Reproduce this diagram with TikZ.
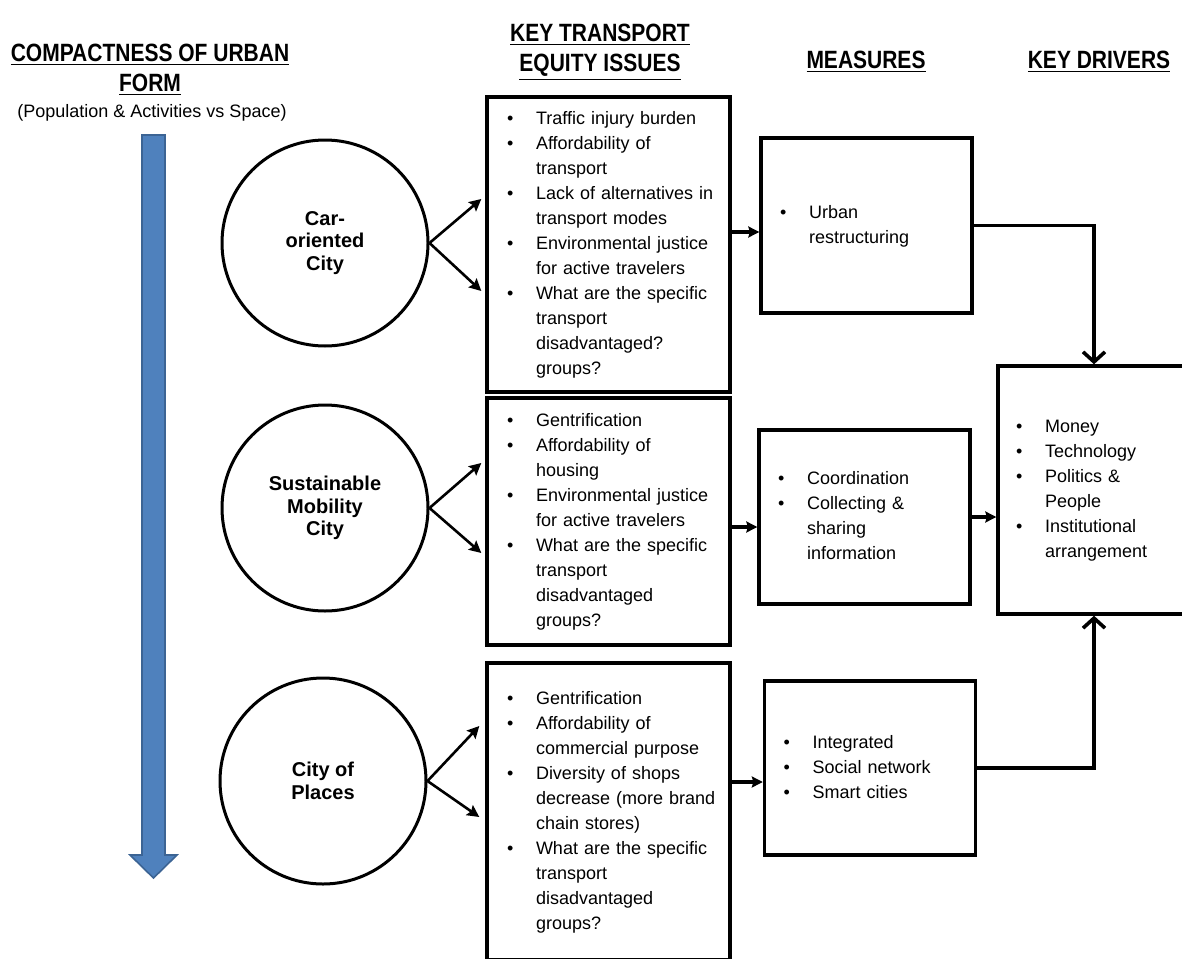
\documentclass[tikz,border=0pt]{standalone}
\usepackage{fontspec}
\setmainfont{Liberation Sans}
\newfontfamily\headfont[FakeStretch=0.84]{Liberation Sans}
\usetikzlibrary{arrows.meta}
\definecolor{shaftblue}{HTML}{4F81BD}
\definecolor{shaftedge}{HTML}{3C6494}
% bullet lists inside the boxes
\newcommand{\bl}{\textbullet}
\newcommand{\bitems}[1]{\begin{tabular}{@{}p{14.5pt}@{}l@{}}#1\end{tabular}}
\tikzset{
  head/.style={font=\headfont\bfseries\fontsize{12.5}{15}\selectfont, align=center, inner sep=0pt},
  city/.style={circle, draw, line width=1.5pt, minimum size=103pt, inner sep=0pt,
    font=\bfseries\fontsize{10}{11.3}\selectfont, align=center},
  listbox/.style={draw, line width=1.7pt, rectangle, align=left,
    font=\fontsize{9}{12.5}\selectfont, inner ysep=0pt},
  issuebox/.style={listbox, inner xsep=10pt, text width=101.5pt},
  measbox/.style={listbox, inner xsep=9.5pt, text width=86.5pt, minimum height=87pt},
  driverbox/.style={listbox, inner xsep=9pt, text width=78pt, minimum height=124pt},
  thinarrow/.style={-{Stealth[length=6pt,width=6pt,inset=1pt]}, line width=1.3pt},
  boxarrow/.style={-{Stealth[length=5.5pt,width=5.5pt,inset=0.8pt]}, line width=1.6pt},
  feed/.style={-{Straight Barb[length=5pt,width=11pt]}, line width=1.8pt}
}
\begin{document}
\begin{tikzpicture}[x=0.5pt, y=-0.5pt]
\useasboundingbox (0,0) rectangle (1182,958);
% column heads
\node[head] (compactTitle) at (150,70) {\underline{COMPACTNESS OF URBAN}\\\underline{FORM}};
\node[font=\fontsize{9}{11}\selectfont, inner sep=0pt] (compactSub) at (152,113) {(Population \& Activities vs Space)};
\node[head] (issuesHead) at (600,52) {\underline{KEY TRANSPORT}\\\underline{EQUITY ISSUES}};
\node[head] (measHead) at (866,62) {\underline{MEASURES}};
\node[head] (driversHead) at (1099,62) {\underline{KEY DRIVERS}};

% compactness arrow
\fill[shaftblue, draw=shaftedge, line width=0.8pt]
  (142,135) -- (165,135) -- (165,855) -- (177,855) -- (153.5,878) -- (130,855) -- (142,855) -- cycle;

% city types
\node[city] (car) at (325,243) {Car-\\oriented\\City};
\node[city] (mobility) at (325,508) {Sustainable\\Mobility\\City};
\node[city] (places) at (323,781) {City of\\Places};

% equity issues
\node[issuebox, minimum height=147.5pt] (issuesCar) at (608.5,244.5) {\bitems{
  \bl & Traffic injury burden\\
  \bl & Affordability of\\
      & transport\\
  \bl & Lack of alternatives in\\
      & transport modes\\
  \bl & Environmental justice\\
      & for active travelers\\
  \bl & What are the specific\\
      & transport\\
      & disadvantaged?\\
      & groups?}};
\node[issuebox, minimum height=123.5pt] (issuesMob) at (608.5,521.5) {\bitems{
  \bl & Gentrification\\
  \bl & Affordability of\\
      & housing\\
  \bl & Environmental justice\\
      & for active travelers\\
  \bl & What are the specific\\
      & transport\\
      & disadvantaged\\
      & groups?}};
\node[issuebox, minimum height=148.5pt] (issuesPlaces) at (608.5,811.5) {\bitems{
  \bl & Gentrification\\
  \bl & Affordability of\\
      & commercial purpose\\
  \bl & Diversity of shops\\
      & decrease (more brand\\
      & chain stores)\\
  \bl & What are the specific\\
      & transport\\
      & disadvantaged\\
      & groups?}};

% measures
\node[measbox, minimum height=87.5pt] (measCar) at (866.5,225.5) {\bitems{
  \bl & Urban\\
      & restructuring}};
\node[measbox] (measMob) at (864.5,517) {\bitems{
  \bl & Coordination\\
  \bl & Collecting \&\\
      & sharing\\
      & information}};
\node[measbox] (measPlaces) at (870,768) {\bitems{
  \bl & Integrated\\
  \bl & Social network\\
  \bl & Smart cities}};

% key drivers
\node[driverbox] (drivers) at (1094,490) {\bitems{
  \bl & Money\\
  \bl & Technology\\
  \bl & Politics \&\\
      & People\\
  \bl & Institutional\\
      & arrangement}};

% connectors
\draw[thinarrow] (car.east) -- ([xshift=-2pt,yshift=22.75pt]issuesCar.west);
\draw[thinarrow] (car.east) -- ([xshift=-2pt,yshift=-23.25pt]issuesCar.west);
\draw[thinarrow] (mobility.east) -- ([xshift=-2pt,yshift=29.25pt]issuesMob.west);
\draw[thinarrow] (mobility.east) -- ([xshift=-2pt,yshift=-15.75pt]issuesMob.west);
\draw[thinarrow] (places.east) -- ([xshift=-3pt,yshift=42.75pt]issuesPlaces.west);
\draw[thinarrow] (places.east) -- ([xshift=-3pt,yshift=-2.75pt]issuesPlaces.west);
\draw[boxarrow] ([yshift=6.25pt]issuesCar.east) -- ([yshift=-3.25pt]measCar.west);
\draw[boxarrow] ([yshift=-2.75pt]issuesMob.east) -- ([yshift=-5pt]measMob.west);
\draw[boxarrow] ([yshift=14.75pt]issuesPlaces.east) -- ([yshift=-7pt]measPlaces.west);
\draw[feed] (measCar.east) -| (drivers.north);
\draw[boxarrow] (measMob.east) -- (measMob.east -| drivers.west);
\draw[feed] (measPlaces.east) -| (drivers.south);
\end{tikzpicture}
\end{document}
